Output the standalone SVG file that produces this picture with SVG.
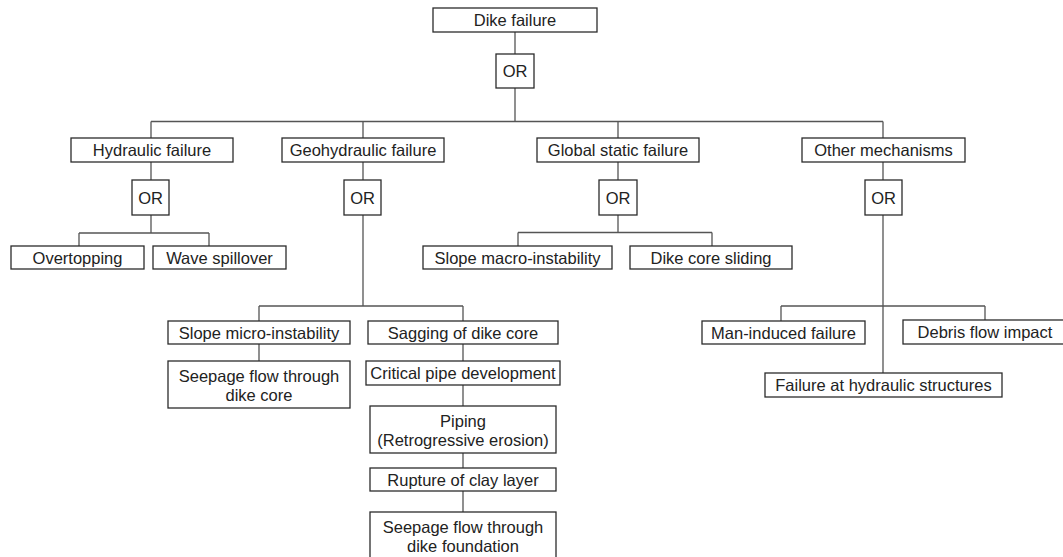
<svg xmlns="http://www.w3.org/2000/svg" width="1063" height="557" viewBox="0 0 1063 557">
<style>
.b{fill:#fff;stroke:#2b2b2b;stroke-width:1.3}
.t{font-family:"Liberation Sans",Arial,sans-serif;font-size:16.5px;fill:#222;text-anchor:middle}
.c{fill:none;stroke:#555;stroke-width:1.3}
</style>
<rect width="1063" height="557" fill="#fff"/>
<g id="connectors">
<path class="c" d="M515 32V54M515 88V121.5M151 121.5H883M151 121.5V138M363 121.5V138M618 121.5V138M883 121.5V138"/>
<path class="c" d="M151 162V180M151 215V233M79 233H209M79 233V246M209 233V246"/>
<path class="c" d="M363 162V180M363 215V306M259 306H463M259 306V321M463 306V321M259 344V361M463 344V361M463 385V406M463 453V468M463 491V512"/>
<path class="c" d="M618 162V180M618 215V232.5M518 232.5H712M518 232.5V246M712 232.5V246"/>
<path class="c" d="M883 162V180M883 215V373M781 306H985M781 306V321M985 306V321"/>
</g>
<g id="n-dike"><rect class="b" x="433" y="8" width="164" height="24"/><text class="t" x="515" y="26">Dike failure</text></g>
<g id="or-top"><rect class="b" x="496" y="54" width="38" height="34"/><text class="t" x="515" y="77">OR</text></g>
<g id="n-hydraulic"><rect class="b" x="71" y="138" width="162" height="24"/><text class="t" x="152" y="156">Hydraulic failure</text></g>
<g id="or-hydraulic"><rect class="b" x="132" y="180" width="37" height="35"/><text class="t" x="150.5" y="203.5">OR</text></g>
<g id="n-overtopping"><rect class="b" x="11" y="246" width="133" height="23"/><text class="t" x="77.5" y="263.5">Overtopping</text></g>
<g id="n-wave"><rect class="b" x="153" y="246" width="133" height="23"/><text class="t" x="219.5" y="263.5">Wave spillover</text></g>
<g id="n-geohydraulic"><rect class="b" x="282" y="138" width="162" height="24"/><text class="t" x="363" y="156">Geohydraulic failure</text></g>
<g id="or-geohydraulic"><rect class="b" x="344" y="180" width="37" height="35"/><text class="t" x="362.5" y="203.5">OR</text></g>
<g id="n-global"><rect class="b" x="537" y="138" width="162" height="24"/><text class="t" x="618" y="156">Global static failure</text></g>
<g id="or-global"><rect class="b" x="599" y="180" width="38" height="35"/><text class="t" x="618" y="203.5">OR</text></g>
<g id="n-slopemacro"><rect class="b" x="423" y="246" width="189" height="23"/><text class="t" x="517.5" y="263.5">Slope macro-instability</text></g>
<g id="n-coresliding"><rect class="b" x="630" y="246" width="162" height="23"/><text class="t" x="711" y="263.5">Dike core sliding</text></g>
<g id="n-other"><rect class="b" x="802" y="138" width="163" height="24"/><text class="t" x="883.5" y="156">Other mechanisms</text></g>
<g id="or-other"><rect class="b" x="865" y="180" width="37" height="35"/><text class="t" x="883.5" y="203.5">OR</text></g>
<g id="n-slopemicro"><rect class="b" x="168" y="321" width="182" height="23"/><text class="t" x="259" y="338.5">Slope micro-instability</text></g>
<g id="n-seepagecore"><rect class="b" x="168" y="361" width="182" height="47"/><text class="t" x="259" y="382">Seepage flow through</text><text class="t" x="259" y="400.5">dike core</text></g>
<g id="n-sagging"><rect class="b" x="368" y="321" width="190" height="23"/><text class="t" x="463" y="338.5">Sagging of dike core</text></g>
<g id="n-critical"><rect class="b" x="366" y="361" width="194" height="24"/><text class="t" x="463" y="379">Critical pipe development</text></g>
<g id="n-piping"><rect class="b" x="370" y="406" width="186" height="47"/><text class="t" x="463" y="427">Piping</text><text class="t" x="463" y="445.5">(Retrogressive erosion)</text></g>
<g id="n-rupture"><rect class="b" x="370" y="468" width="186" height="23"/><text class="t" x="463" y="485.5">Rupture of clay layer</text></g>
<g id="n-seepagefoundation"><rect class="b" x="370" y="512" width="186" height="50"/><text class="t" x="463" y="533">Seepage flow through</text><text class="t" x="463" y="551.5">dike foundation</text></g>
<g id="n-maninduced"><rect class="b" x="702" y="321" width="163" height="23"/><text class="t" x="783.5" y="338.5">Man-induced failure</text></g>
<g id="n-debris"><rect class="b" x="903" y="320" width="166" height="24"/><text class="t" x="985" y="338">Debris flow impact</text></g>
<g id="n-hydstruct"><rect class="b" x="765" y="373" width="237" height="24"/><text class="t" x="883.5" y="391">Failure at hydraulic structures</text></g>
</svg>
